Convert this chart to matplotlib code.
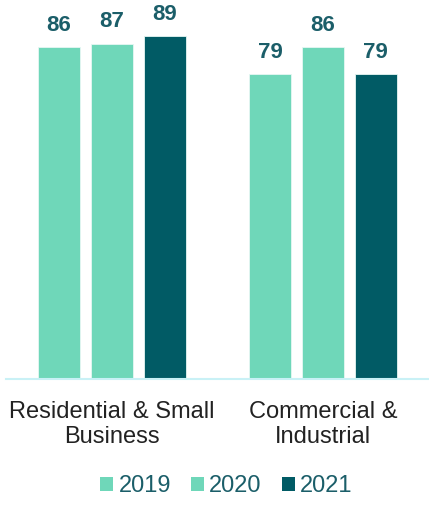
import matplotlib
matplotlib.use("Agg")
import matplotlib.pyplot as plt
from matplotlib.patches import Patch
import numpy as np

categories = ["Residential & Small\nBusiness", "Commercial &\nIndustrial"]
series_names = ["2019", "2020", "2021"]
values_2019 = [86, 79]
values_2020 = [87, 86]
values_2021 = [89, 79]

light = "#6FD7B9"
dark = "#015B65"
label_color = "#1B5E69"
colors = [light, light, dark]

plt.rcParams['font.family'] = ['Liberation Sans', 'DejaVu Sans']

W, H = 429, 505
fig = plt.figure(figsize=(W / 100, H / 100), dpi=100)
ax = fig.add_axes([6 / W, (H - 379) / H, 422 / W, 379 / H])

x = np.arange(len(categories))
width = 0.199
step = 0.251
all_vals = [values_2019, values_2020, values_2021]
for i, (name, vals) in enumerate(zip(series_names, all_vals)):
    pos = x + (i - 1) * step
    bars = ax.bar(pos, vals, width=width, color=colors[i], edgecolor="#E6F7F3",
                  linewidth=0.6, label=name, zorder=2)
    for b, v in zip(bars, vals):
        ax.annotate(f"{v}", (b.get_x() + b.get_width() / 2, v), xytext=(0, 8),
                    textcoords="offset points", ha="center", va="bottom",
                    fontsize=16, fontweight="bold", color=label_color)

ax.set_xlim(-0.502, 1.498)
ax.set_ylim(0, 98.3)
ax.set_xticks(x)
ax.set_xticklabels(categories, fontsize=17, color="#222222", linespacing=1.15)
ax.tick_params(axis="x", length=0, pad=16)
ax.set_yticks([])
for s in ["top", "right", "left"]:
    ax.spines[s].set_visible(False)
ax.spines["bottom"].set_color("#C9F1F6")
ax.spines["bottom"].set_linewidth(1.5)
ax.patch.set_alpha(0)

handles = [Patch(facecolor=c, edgecolor="none") for c in colors]
fig.legend(handles, series_names, loc="center", bbox_to_anchor=(226.5 / W, 1 - 486 / H),
           ncol=3, frameon=False, fontsize=17, handlelength=0.55, handleheight=0.55,
           handletextpad=0.22, columnspacing=0.85, borderpad=0, labelcolor=label_color)

fig.savefig("out.png", dpi=100)
